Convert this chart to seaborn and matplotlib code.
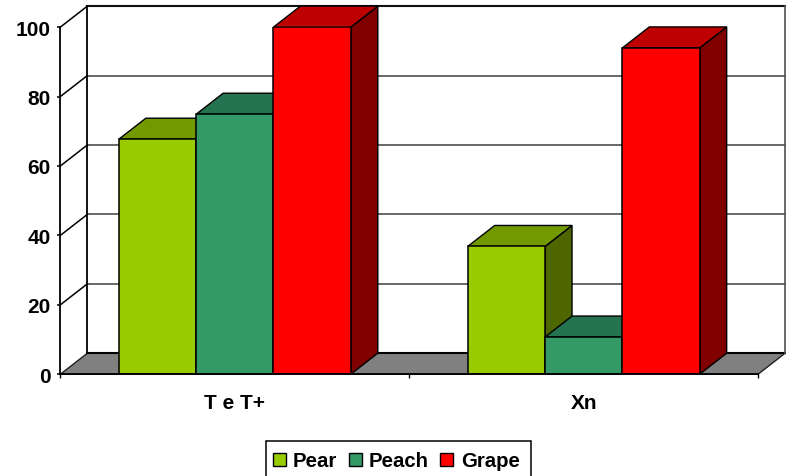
import pandas as pd
import matplotlib
matplotlib.use("Agg")
import matplotlib.pyplot as plt
from matplotlib.patches import Polygon, Rectangle
from matplotlib.ticker import FixedLocator
import seaborn as sns

categories = ["T e T+", "Xn"]
series_names = ["Pear", "Peach", "Grape"]
pear = [67.7, 36.8]
peach = [74.9, 10.7]
grape = [100, 94]
front_colors = ["#99CC00", "#339966", "#FF0000"]
top_colors = ["#739900", "#267350", "#BF0000"]
side_colors = ["#4D6600", "#1A4D33", "#800000"]
y_ticks = [0, 20, 40, 60, 80, 100]

sns.set_theme(style="ticks")
plt.rcParams["font.family"] = ["Liberation Sans", "DejaVu Sans"]

W, H = 790, 477
fig = plt.figure(figsize=(W / 100, H / 100), dpi=100, facecolor="white")
X0, X1, Y0, Y100 = 60.4, 758.1, 375.2, 28.1
ax = fig.add_axes([X0 / W, 1 - Y0 / H, (X1 - X0) / W, (Y0 - Y100) / H])

df = pd.DataFrame({
    "category": categories * 3,
    "series": [s for s in series_names for _ in categories],
    "value": pear + peach + grape,
})
sns.barplot(data=df, x="category", y="value", hue="series", hue_order=series_names,
            palette=front_colors, width=0.665, gap=0, saturation=1,
            edgecolor="black", linewidth=1.1, ax=ax)

ax.set_xlim(-0.5, 1.5)
ax.set_ylim(0, 100)
px_x = (X1 - X0) / 2
px_y = (Y0 - Y100) / 100
dx = 27 / px_x
dy = 21 / px_y


def line(xs, ys, color="black", lw=1.4, z=1.5):
    ax.plot(xs, ys, color=color, lw=lw, zorder=z, clip_on=False, solid_capstyle="projecting")


# walls and floor
ax.add_patch(Polygon([(-0.5, 0), (1.5, 0), (1.5 + dx, dy), (-0.5 + dx, dy)], closed=True,
                     facecolor="#808080", edgecolor="#202020", lw=1.0, zorder=1, clip_on=False))
for t in y_ticks:
    if t == 0:
        continue
    line([-0.5, -0.5 + dx], [t, t + dy], z=1.6, lw=1.1)
    if t < 100:
        line([-0.5 + dx, 1.5 + dx], [t + dy, t + dy], color="#404040", lw=1.1, z=1.4)
line([-0.5 + dx, 1.5 + dx], [100 + dy, 100 + dy], color="#111111", lw=1.5)
line([-0.5 + dx, -0.5 + dx], [dy, 100 + dy], lw=1.3)
line([-0.5 + dx, 1.5 + dx], [dy, dy], lw=1.5)
line([1.5 + dx, 1.5 + dx], [dy, 100 + dy], color="#505050", lw=1.2)

# bar depth faces, built from the bars the library drew
for i, cont in enumerate(ax.containers):
    for j, bar in enumerate(cont):
        bar.set_zorder(3 + i * 0.1 + 0.02)
        xl, xr = bar.get_x(), bar.get_x() + bar.get_width()
        h = bar.get_height()
        z = 3 + i * 0.1
        ax.add_patch(Polygon([(xr, 0), (xr + dx, dy), (xr + dx, h + dy), (xr, h)], closed=True,
                             facecolor=side_colors[i], edgecolor="black", lw=1.0,
                             zorder=z, clip_on=False))
        ax.add_patch(Polygon([(xl, h), (xl + dx, h + dy), (xr + dx, h + dy), (xr, h)], closed=True,
                             facecolor=top_colors[i], edgecolor="black", lw=1.0,
                             zorder=z + 0.01, clip_on=False))

# axes furniture
sns.despine(ax=ax, top=True, right=True)
for s in ("left", "bottom"):
    ax.spines[s].set_linewidth(1.3)
    ax.spines[s].set_color("black")
    ax.spines[s].set_zorder(5)
ax.patch.set_alpha(0)
ax.set_xlabel("")
ax.set_ylabel("")
ax.set_yticks(y_ticks)
ax.xaxis.set_minor_locator(FixedLocator([-0.5, 0.5, 1.5]))
ax.tick_params(axis="x", which="major", length=0, pad=13.7, labelsize=15, labelcolor="black")
ax.tick_params(axis="x", which="minor", length=3.2, width=1.0, color="black")
ax.tick_params(axis="y", length=2.2, width=1.1, color="black", pad=4.8, labelsize=15, labelcolor="black")
for lab in ax.get_xticklabels() + ax.get_yticklabels():
    lab.set_fontweight("bold")

# legend frame runs past the bottom edge, as in the reference
fig.add_artist(Rectangle((265.5 / W, 1 - 482 / H), (531 - 265.5) / W, 40 / H,
                         transform=fig.transFigure, facecolor="white",
                         edgecolor="black", lw=1.1, zorder=-1))
handles, labels = ax.get_legend_handles_labels()
leg = ax.legend(handles, labels, ncol=3, loc="center left",
                bbox_to_anchor=(272.7 / W, 1 - 462 / H), bbox_transform=fig.transFigure,
                frameon=False, borderaxespad=0, borderpad=0, handlelength=0.64, handleheight=0.64,
                handletextpad=0.36, columnspacing=0.55, labelcolor="black",
                prop={"family": "Liberation Sans", "weight": "bold", "size": 14.7})
leg.set_zorder(10)
for p in leg.get_patches():
    p.set_edgecolor("black")
    p.set_linewidth(1.0)

fig.savefig("out.png", dpi=100, facecolor="white")
